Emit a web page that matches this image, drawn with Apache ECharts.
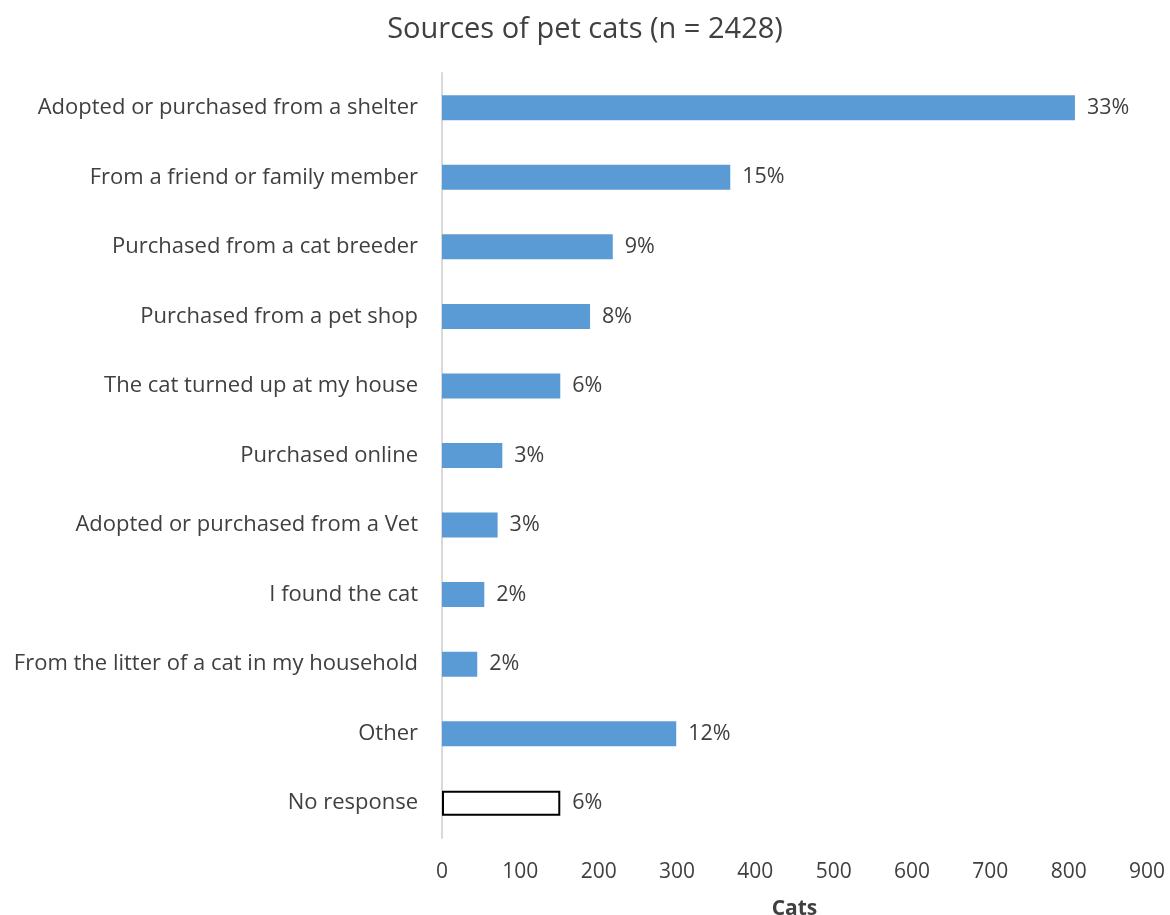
<!DOCTYPE html>
<html>
<head>
<meta charset="utf-8">
<script src="https://cdn.jsdelivr.net/npm/echarts@6/dist/echarts.min.js"></script>
<style>
html,body{margin:0;padding:0;background:#fff;}
#chart{width:1170px;height:915px;}
</style>
</head>
<body>
<div id="chart"></div>
<script>
const categories = [
  "Adopted or purchased from a shelter",
  "From a friend or family member",
  "Purchased from a cat breeder",
  "Purchased from a pet shop",
  "The cat turned up at my house",
  "Purchased online",
  "Adopted or purchased from a Vet",
  "I found the cat",
  "From the litter of a cat in my household",
  "Other",
  "No response"
];
const values = [808, 368, 218, 189, 151, 77, 71, 54, 45, 299, 151];
const percentLabels = ["33%", "15%", "9%", "8%", "6%", "3%", "3%", "2%", "2%", "12%", "6%"];
const xTicks = [0, 100, 200, 300, 400, 500, 600, 700, 800, 900];

const FONT = '"Open Sans", "Noto Sans", sans-serif';
const chart = echarts.init(document.getElementById('chart'));
const data = values.map((v, i) => {
  const item = { value: v };
  if (categories[i] === "No response") {
    item.itemStyle = { color: '#ffffff', borderColor: '#000000', borderWidth: 2 };
  }
  return item;
});
chart.setOption({
  animation: false,
  title: {
    text: 'Sources of pet cats (n = 2428)',
    left: 'center',
    top: 10,
    textStyle: { fontFamily: FONT, fontSize: 29, fontWeight: 'normal', color: '#404040' }
  },
  grid: { left: 442, right: 23, top: 73, bottom: 77, containLabel: false, outerBoundsMode: 'none' },
  xAxis: {
    type: 'value',
    min: xTicks[0],
    max: xTicks[xTicks.length - 1],
    interval: 100,
    name: 'Cats',
    nameLocation: 'middle',
    nameGap: 61,
    nameTextStyle: { fontFamily: FONT, fontSize: 21, fontWeight: 'bold', color: '#404040' },
    axisLine: { show: false },
    axisTick: { show: false },
    splitLine: { show: false },
    axisLabel: { fontFamily: FONT, fontSize: 21, color: '#404040', margin: 24 }
  },
  yAxis: {
    type: 'category',
    data: categories,
    inverse: true,
    axisLine: { show: true, lineStyle: { color: '#d9d9d9', width: 2 } },
    axisTick: { show: false },
    axisLabel: { fontFamily: FONT, fontSize: 22, color: '#404040', margin: 24 }
  },
  series: [{
    type: 'bar',
    data: data,
    barWidth: 25,
    itemStyle: { color: '#5b9bd5' },
    label: {
      show: true,
      position: 'right',
      distance: 12,
      fontFamily: FONT,
      fontSize: 21.5,
      color: '#404040',
      formatter: p => percentLabels[p.dataIndex]
    }
  }]
});
</script>
</body>
</html>
